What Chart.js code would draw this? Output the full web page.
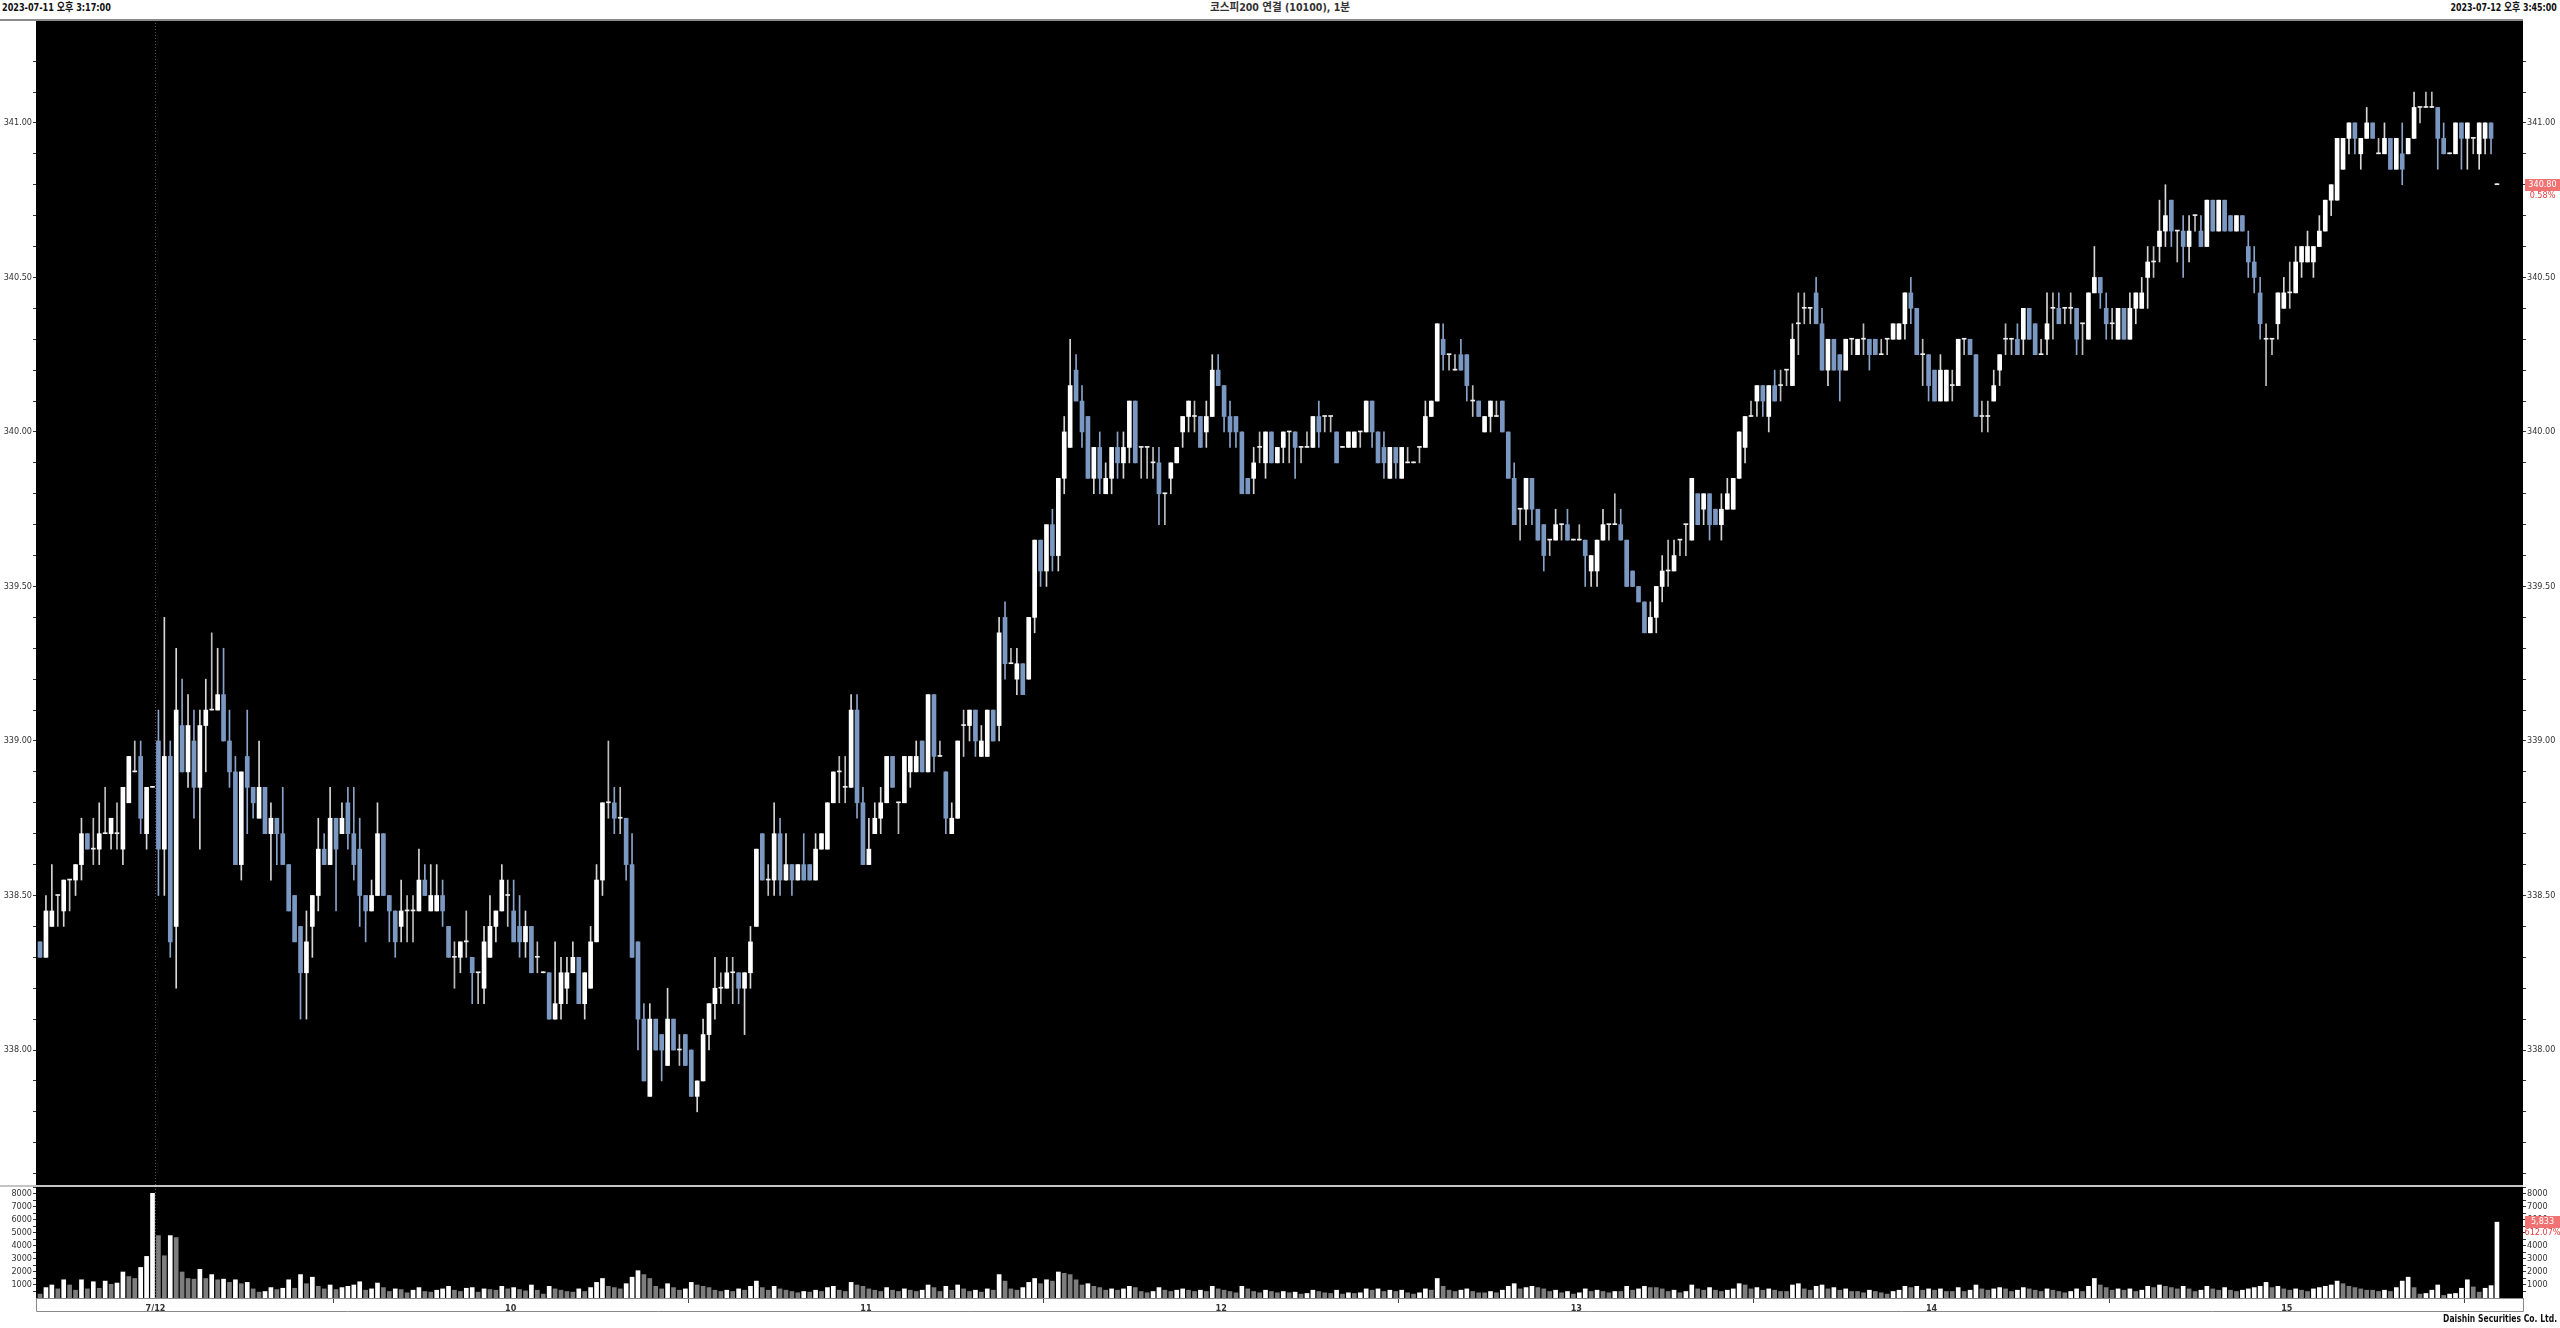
<!DOCTYPE html>
<html lang="ko">
<head>
<meta charset="utf-8">
<title>코스피200 연결 (10100), 1분</title>
<script src="https://cdn.jsdelivr.net/npm/chart.js@4.4.1/dist/chart.umd.min.js"></script>
<style>
html,body{margin:0;padding:0;background:#fff;}
body{width:2560px;height:1328px;position:relative;overflow:hidden;font-family:'Liberation Sans Narrow','DejaVu Sans Condensed','Noto Sans CJK KR',sans-serif;}
.hdr{position:absolute;top:1px;font-size:11px;font-weight:bold;line-height:14px;color:#111;white-space:nowrap;z-index:6;}
#hl{left:2px;transform:scaleX(0.82);transform-origin:left center;}
#hc{left:0;width:2560px;text-align:center;color:#333;transform:scaleX(0.96);transform-origin:1280px center;}
#hr{right:3px;transform:scaleX(0.8);transform-origin:right center;}
#topline{position:absolute;left:0;top:19px;width:2523px;height:2px;background:#8a8a8a;z-index:5;}
#sepline{position:absolute;left:0;top:1185px;width:2523px;height:2px;background:#c4c4c4;z-index:5;}
#cp{position:absolute;left:0;top:20px;}
#cv{position:absolute;left:0;top:1186px;}
#foot{position:absolute;right:3px;top:1313px;font-size:10px;line-height:12px;font-weight:bold;color:#111;z-index:6;transform:scaleX(0.85);transform-origin:right center;}
</style>
</head>
<body>
<div class="hdr" id="hl">2023-07-11 오후 3:17:00</div>
<div class="hdr" id="hc">코스피200 연결 (10100), 1분</div>
<div class="hdr" id="hr">2023-07-12 오후 3:45:00</div>
<div id="topline"></div>
<canvas id="cp" width="2560" height="1166"></canvas>
<canvas id="cv" width="2560" height="142"></canvas>
<div id="sepline"></div>
<div id="foot">Daishin Securities Co. Ltd.</div>
<script>
// ---------------- DATA (1-minute bars) ----------------
const openP = [
338.35,338.3,338.4,338.5,338.45,338.55,338.55,338.6,338.7,338.65,
338.65,338.7,338.7,338.7,338.65,338.8,338.9,338.95,338.7,338.85,
339,338.65,338.95,338.4,339.05,338.9,339,338.85,339.05,339.1,
339.1,339.15,339,338.9,338.6,338.95,338.85,338.75,338.85,338.7,
338.75,338.7,338.6,338.5,338.4,338.25,338.4,338.5,338.65,338.6,
338.75,338.7,338.8,338.7,338.65,338.5,338.45,338.5,338.7,338.5,
338.45,338.4,338.45,338.45,338.45,338.55,338.45,338.45,338.5,338.4,
338.3,338.3,338.35,338.3,338.25,338.2,338.3,338.4,338.45,338.5,
338.45,338.4,338.35,338.4,338.3,338.25,338.25,338.1,338.15,338.2,
338.25,338.3,338.15,338.2,338.35,338.55,338.8,338.8,338.75,338.75,
338.6,338.35,338.1,337.85,338.1,338.05,337.95,338.1,338,338.05,
338,337.85,337.9,338.05,338.15,338.2,338.2,338.25,338.25,338.2,
338.25,338.4,338.7,338.55,338.55,338.7,338.55,338.6,338.55,338.6,
338.6,338.55,338.65,338.65,338.8,338.9,338.85,338.85,339.1,338.8,
338.6,338.7,338.75,338.8,338.95,338.8,338.8,338.9,338.9,339,
338.9,339.15,338.95,338.9,338.7,338.75,339.05,339.05,339.1,338.95,
338.95,339.1,339.05,339.4,339.25,339.2,339.25,339.2,339.4,339.65,
339.55,339.7,339.6,339.85,339.95,340.2,340.1,340.05,339.85,339.95,
339.8,339.85,339.95,339.9,339.95,340.1,339.95,339.95,339.9,339.9,
339.8,339.85,339.9,340,340.05,340.05,340.05,340,340.05,340.2,
340.15,340.05,340.05,340,339.85,339.85,339.95,339.9,340,339.9,
339.95,340,340,339.95,339.95,339.95,340.05,340.05,340.05,340,
339.95,339.95,339.95,340,340,340.1,340,339.95,339.85,339.95,
339.85,339.9,339.9,339.95,339.95,340.05,340.1,340.3,340.25,340.2,
340.25,340.25,340.1,340.1,340,340.05,340.05,340.1,340,339.85,
339.75,339.75,339.85,339.75,339.7,339.65,339.65,339.7,339.7,339.65,
339.65,339.65,339.55,339.55,339.65,339.7,339.7,339.7,339.65,339.55,
339.5,339.45,339.35,339.4,339.5,339.55,339.55,339.65,339.7,339.65,
339.8,339.75,339.8,339.75,339.7,339.75,339.75,339.85,339.95,340.05,
340.1,340.15,340.05,340.15,340.15,340.2,340.15,340.35,340.4,340.4,
340.45,340.35,340.2,340.3,340.25,340.2,340.3,340.25,340.3,340.3,
340.3,340.25,340.3,340.3,340.3,340.35,340.45,340.4,340.25,340.25,
340.2,340.1,340.1,340.15,340.15,340.3,340.3,340.25,340.05,340.05,
340.1,340.2,340.3,340.3,340.3,340.3,340.4,340.35,340.25,340.3,
340.4,340.4,340.4,340.4,340.4,340.35,340.3,340.45,340.5,340.4,
340.35,340.3,340.4,340.3,340.4,340.4,340.5,340.55,340.6,340.65,
340.75,340.65,340.65,340.6,340.7,340.65,340.6,340.75,340.65,340.75,
340.7,340.65,340.7,340.6,340.55,340.45,340.3,340.3,340.35,340.4,
340.45,340.45,340.55,340.55,340.55,340.6,340.65,340.75,340.75,340.85,
340.95,341,340.9,340.95,341,340.9,340.9,340.95,340.85,340.9,
340.9,340.95,341.05,341.05,341.05,341.05,340.95,340.9,340.9,341,
340.95,340.95,340.9,340.95,341,340.8
];
const highP = [
338.35,338.5,338.6,338.5,338.55,338.55,338.6,338.75,338.7,338.75,
338.8,338.85,338.75,338.8,338.85,338.95,339,339,338.85,338.85,
339.1,339.4,339,339.3,339.2,339.15,339.1,339.1,339.2,339.35,
339.3,339.3,339.1,338.95,338.9,339.1,338.85,339,338.85,338.8,
338.75,338.85,338.6,338.5,338.4,338.45,338.5,338.75,338.7,338.85,
338.75,338.8,338.85,338.85,338.75,338.5,338.55,338.8,338.7,338.5,
338.45,338.55,338.5,338.5,338.65,338.6,338.6,338.6,338.55,338.4,
338.35,338.35,338.45,338.3,338.25,338.4,338.5,338.45,338.6,338.55,
338.55,338.5,338.45,338.4,338.35,338.25,338.25,338.35,338.3,338.3,
338.35,338.3,338.25,338.4,338.6,338.8,339,338.85,338.85,338.75,
338.7,338.35,338.15,338.15,338.1,338.05,338.2,338.1,338.05,338.05,
338,337.9,338.1,338.15,338.3,338.25,338.3,338.3,338.25,338.25,
338.4,338.65,338.7,338.6,338.8,338.75,338.7,338.6,338.6,338.7,
338.6,338.7,338.7,338.8,338.9,338.95,338.95,339.15,339.15,338.85,
338.75,338.8,338.85,338.95,338.95,338.8,338.95,338.95,339,339,
339.15,339.15,339,338.9,338.8,339,339.1,339.1,339.1,339.05,
339.1,339.1,339.4,339.45,339.3,339.3,339.25,339.4,339.65,339.65,
339.7,339.75,339.85,340.05,340.3,340.25,340.15,340.05,339.95,340,
339.9,339.95,340,340,340.1,340.1,339.95,339.95,339.95,339.95,
339.8,339.9,339.95,340.05,340.1,340.1,340.05,340.1,340.25,340.25,
340.15,340.1,340.05,340,339.85,339.95,340,340,340,339.95,
340,340,340,339.95,340,340.05,340.1,340.05,340.05,340,
339.95,340,340,340,340.1,340.1,340,340,339.95,339.95,
339.95,339.95,339.9,339.95,340.1,340.1,340.35,340.35,340.25,340.25,
340.3,340.25,340.15,340.1,340.05,340.1,340.1,340.1,340,339.9,
339.75,339.85,339.85,339.75,339.7,339.65,339.75,339.7,339.75,339.65,
339.7,339.65,339.6,339.65,339.75,339.7,339.8,339.75,339.65,339.55,
339.5,339.45,339.45,339.5,339.6,339.65,339.65,339.65,339.7,339.85,
339.8,339.8,339.8,339.75,339.8,339.85,339.85,340,340.05,340.1,
340.15,340.15,340.15,340.2,340.2,340.2,340.35,340.45,340.45,340.4,
340.5,340.4,340.3,340.3,340.25,340.3,340.3,340.3,340.35,340.3,
340.3,340.3,340.3,340.35,340.35,340.45,340.5,340.4,340.3,340.25,
340.2,340.25,340.2,340.2,340.3,340.3,340.3,340.25,340.1,340.1,
340.2,340.25,340.35,340.3,340.35,340.4,340.4,340.35,340.3,340.45,
340.45,340.45,340.4,340.45,340.4,340.35,340.45,340.6,340.5,340.45,
340.4,340.4,340.4,340.45,340.45,340.5,340.6,340.6,340.75,340.8,
340.75,340.65,340.7,340.7,340.7,340.7,340.75,340.75,340.75,340.75,
340.7,340.7,340.7,340.65,340.6,340.5,340.35,340.3,340.45,340.5,
340.55,340.6,340.6,340.65,340.6,340.7,340.75,340.8,340.95,340.95,
341,341,340.95,341.05,341,340.95,341,340.95,340.95,341,
340.95,341.1,341.05,341.1,341.1,341.05,341,340.9,341,341,
341,340.95,341,341,341,340.8
];
const lowP = [
338.3,338.3,338.4,338.4,338.4,338.45,338.5,338.55,338.65,338.6,
338.6,338.7,338.65,338.65,338.6,338.8,338.9,338.7,338.65,338.85,
338.5,338.5,338.3,338.2,338.9,338.85,338.75,338.65,338.9,339.1,
339.1,339,338.85,338.6,338.55,338.7,338.75,338.75,338.7,338.55,
338.6,338.6,338.45,338.35,338.1,338.1,338.3,338.45,338.6,338.6,
338.45,338.7,338.65,338.55,338.4,338.35,338.45,338.5,338.5,338.35,
338.3,338.35,338.35,338.35,338.45,338.5,338.45,338.45,338.4,338.3,
338.2,338.25,338.3,338.15,338.15,338.15,338.3,338.35,338.45,338.4,
338.35,338.3,338.3,338.25,338.25,338.25,338.1,338.1,338.1,338.15,
338.25,338.15,338.1,338.2,338.35,338.5,338.75,338.7,338.7,338.55,
338.3,338,337.9,337.85,338,337.9,337.95,338,337.95,337.95,
337.85,337.8,337.9,338,338.1,338.15,338.2,338.15,338.15,338.05,
338.2,338.4,338.55,338.5,338.5,338.5,338.55,338.5,338.55,338.55,
338.55,338.55,338.65,338.65,338.8,338.8,338.8,338.85,338.75,338.6,
338.6,338.7,338.7,338.8,338.85,338.7,338.8,338.85,338.9,338.9,
338.9,338.9,338.95,338.7,338.7,338.75,338.95,339,338.95,338.95,
338.95,339,339,339.2,339.25,339.15,339.15,339.2,339.35,339.5,
339.5,339.55,339.55,339.8,339.95,340.1,339.95,339.85,339.8,339.8,
339.8,339.8,339.85,339.85,339.9,339.9,339.85,339.85,339.85,339.7,
339.7,339.8,339.9,339.95,340,340,339.95,339.95,340.05,340.15,
340,339.95,339.95,339.8,339.8,339.8,339.9,339.85,339.9,339.9,
339.9,339.9,339.85,339.9,339.95,339.95,339.95,340,340,339.9,
339.95,339.95,339.95,339.95,340,339.95,339.9,339.85,339.85,339.85,
339.85,339.9,339.9,339.9,339.95,340.05,340.1,340.2,340.2,340.2,
340.2,340.1,340.05,340.05,340,340,340.05,340,339.85,339.7,
339.65,339.7,339.7,339.65,339.55,339.6,339.65,339.65,339.65,339.65,
339.65,339.5,339.5,339.5,339.65,339.65,339.7,339.65,339.5,339.5,
339.45,339.35,339.35,339.35,339.45,339.5,339.55,339.6,339.6,339.65,
339.7,339.7,339.65,339.7,339.65,339.75,339.75,339.85,339.9,340.05,
340.05,340.05,340,340.1,340.1,340.15,340.15,340.25,340.35,340.35,
340.35,340.2,340.15,340.2,340.1,340.2,340.25,340.25,340.25,340.2,
340.25,340.25,340.25,340.3,340.3,340.3,340.35,340.25,340.15,340.1,
340.1,340.1,340.1,340.1,340.15,340.25,340.25,340.05,340,340,
340.1,340.15,340.25,340.25,340.25,340.25,340.3,340.25,340.25,340.25,
340.3,340.35,340.35,340.35,340.25,340.25,340.3,340.45,340.4,340.3,
340.3,340.3,340.3,340.3,340.35,340.4,340.4,340.5,340.55,340.6,
340.6,340.55,340.5,340.55,340.65,340.6,340.6,340.65,340.65,340.65,
340.65,340.65,340.65,340.5,340.45,340.3,340.15,340.25,340.3,340.4,
340.4,340.45,340.5,340.55,340.5,340.6,340.65,340.7,340.75,340.85,
340.9,340.9,340.85,340.95,340.95,340.9,340.9,340.85,340.85,340.8,
340.9,340.95,341,341.05,341.05,340.85,340.9,340.9,340.9,340.85,
340.85,340.9,340.85,340.9,340.9,340.8
];
const closeP = [
338.3,338.45,338.45,338.5,338.55,338.55,338.6,338.7,338.65,338.65,
338.7,338.7,338.75,338.7,338.85,338.95,338.9,338.75,338.85,338.85,
338.65,338.95,338.35,339.1,338.9,339.05,338.85,339.05,339.1,339.1,
339.15,339,338.9,338.6,338.9,338.85,338.8,338.85,338.7,338.75,
338.7,338.6,338.45,338.35,338.25,338.35,338.5,338.65,338.6,338.75,
338.65,338.75,338.7,338.6,338.5,338.45,338.5,338.7,338.5,338.45,
338.35,338.45,338.45,338.45,338.55,338.5,338.5,338.5,338.45,338.3,
338.3,338.35,338.35,338.25,338.25,338.35,338.4,338.45,338.55,338.5,
338.35,338.35,338.4,338.25,338.3,338.25,338.1,338.15,338.25,338.25,
338.3,338.15,338.25,338.35,338.55,338.8,338.8,338.75,338.75,338.6,
338.3,338.1,337.9,338.1,338,338,338.1,338,338,337.95,
337.85,337.9,338.05,338.15,338.2,338.2,338.25,338.25,338.2,338.25,
338.35,338.65,338.55,338.55,338.7,338.55,338.6,338.55,338.6,338.55,
338.55,338.65,338.7,338.8,338.9,338.9,338.85,339.1,338.8,338.6,
338.65,338.75,338.8,338.95,338.85,338.8,338.95,338.95,338.95,338.9,
339.15,338.95,338.95,338.75,338.75,339,339.05,339.1,339,339,
339.1,339,339.35,339.25,339.25,339.25,339.15,339.4,339.65,339.55,
339.7,339.6,339.85,340,340.15,340.1,340,339.85,339.95,339.85,
339.85,339.95,339.9,339.95,340.1,339.9,339.95,339.95,339.9,339.8,
339.8,339.9,339.95,340.05,340.1,340.05,339.95,340.05,340.2,340.15,
340.05,340,340,339.8,339.8,339.9,339.95,340,339.9,339.95,
340,340,339.95,339.95,339.95,340.05,340,340.05,340.05,339.9,
339.95,340,340,340,340.1,340,339.9,339.9,339.95,339.9,
339.95,339.9,339.9,339.95,340.05,340.1,340.35,340.25,340.25,340.2,
340.2,340.15,340.1,340.05,340.05,340.1,340.05,340,339.85,339.7,
339.75,339.85,339.75,339.65,339.6,339.65,339.7,339.7,339.65,339.65,
339.65,339.6,339.6,339.65,339.7,339.7,339.7,339.65,339.5,339.5,
339.45,339.35,339.4,339.5,339.55,339.55,339.6,339.65,339.7,339.85,
339.7,339.8,339.7,339.7,339.75,339.8,339.85,340,340.05,340.05,
340.15,340.1,340.15,340.1,340.15,340.2,340.3,340.35,340.4,340.4,
340.35,340.2,340.3,340.2,340.2,340.3,340.3,340.3,340.3,340.25,
340.25,340.25,340.3,340.35,340.35,340.45,340.4,340.25,340.25,340.15,
340.1,340.2,340.2,340.15,340.3,340.3,340.25,340.05,340.05,340.05,
340.15,340.25,340.3,340.3,340.25,340.4,340.3,340.25,340.25,340.35,
340.4,340.35,340.4,340.4,340.3,340.35,340.45,340.5,340.45,340.35,
340.35,340.4,340.3,340.4,340.45,340.45,340.55,340.55,340.65,340.7,
340.65,340.65,340.6,340.65,340.7,340.6,340.75,340.65,340.75,340.65,
340.65,340.7,340.65,340.55,340.5,340.35,340.3,340.3,340.45,340.45,
340.45,340.55,340.6,340.6,340.6,340.65,340.75,340.8,340.95,340.95,
341,340.95,340.95,341,340.95,340.9,340.95,340.85,340.95,340.85,
340.95,341.05,341.05,341.05,341.05,340.95,340.9,340.9,341,340.95,
341,340.95,341,341,340.95,340.8
];
const volume = [
300,800,1000,700,1400,1000,600,1400,700,1250,
750,1300,1050,1150,2000,1650,1500,2350,3200,8050,
4800,3250,4800,4650,2000,1500,1450,2200,1500,1800,
1400,1450,1200,1400,1100,1200,700,450,500,800,
650,750,1400,750,1800,
1100,1600,900,700,1000,650,800,900,1000,1250,600,700,1150,800,500,700,650,400,600,800,
500,450,600,700,900,600,500,750,800,450,700,650,600,900,700,800,650,550,1000,600,
300,900,700,600,500,450,700,500,800,1200,1500,900,800,700,1100,1600,2100,1800,1500,900,
700,1100,800,600,700,1200,1000,900,800,600,500,600,500,700,600,900,1300,800,600,900,
700,600,500,400,500,450,600,500,800,900,600,500,1200,1000,900,700,600,500,800,600,
500,700,600,500,600,1000,800,500,900,600,1000,700,500,600,450,700,600,1800,1300,700,
600,800,1200,1500,1100,1400,1300,2000,1900,1800,1400,1000,1100,900,800,600,700,600,700,900,
800,500,400,500,800,600,500,600,700,600,500,600,500,900,700,600,500,400,900,700,
500,400,600,500,400,500,400,450,300,350,600,500,400,350,600,300,400,350,400,700,
600,700,500,600,500,600,400,300,400,700,600,1500,900,600,500,600,700,500,400,400,
500,400,600,900,1100,700,800,900,800,700,500,600,400,500,300,400,700,500,600,500,
400,500,500,900,600,700,900,800,800,700,500,600,400,500,1000,700,600,800,600,500,
600,700,1100,1000,700,800,600,700,600,500,500,1000,1100,700,600,900,1000,700,800,600,
700,500,500,400,600,500,400,300,500,600,900,800,900,600,700,600,700,500,500,800,
500,600,1000,700,600,700,800,700,500,600,800,700,600,500,700,600,500,400,500,700,
500,900,1500,1000,800,600,700,600,700,500,600,900,800,1000,900,800,700,900,700,500,
600,900,700,600,800,600,500,600,700,800,900,1200,800,900,700,600,700,600,500,700,
800,900,1000,1300,1100,900,800,700,600,600,
500,600,500,800,1300,1600,800,300,350,600,1000,200,300,350,750,1400,850,450,750,950,5833
];
const hourTicks  = [19.5, 79.5, 139.5, 199.5, 259.5, 319.5, 379.5];
const hourLabels = ['7/12', '10', '11', '12', '13', '14', '15'];
const volTickValues = [500,1000,1500,2000,2500,3000,3500,4000,4500,5000,5500,6000,6500,7000,7500,8000,8500];
const dayBreak = 19.5;
const lastPriceText = '340.80', lastPriceChange = '0.58%';
const lastVolText = '5,833', lastVolChange = '612.07%';

// ---------------- SETTINGS ----------------
const X_MIN = -0.68, X_MAX = 419.4;
const PRICE_MIN = 337.56, PRICE_MAX = 341.333;
const VOL_MIN = 0, VOL_MAX = 8615;
const UP = '#ffffff', DOWN = '#7b98c2';
const FONT = "'Liberation Sans Narrow','DejaVu Sans Condensed',sans-serif";

const N = Math.min(openP.length, highP.length, lowP.length, closeP.length, volume.length);
const idx = Array.from({length: N}, (_, i) => i);
const bodyData = idx.map(i => ({x: i, y: [openP[i], closeP[i]]}));
const wickData = idx.map(i => ({x: i, y: [lowP[i], highP[i]]}));
const volData = idx.map(i => ({x: i, y: volume[i]}));
const bodyColors = idx.map(i => closeP[i] > openP[i] ? UP : (closeP[i] < openP[i] ? DOWN : '#f0f0f0'));
const wickColors = idx.map(i => closeP[i] > openP[i] ? '#d6d6d6' : (closeP[i] < openP[i] ? '#8aa3c8' : '#bdbdbd'));
const volColors = idx.map(i => (i > 0 && volume[i] > volume[i - 1]) ? '#ffffff' : '#7d7d7d');

function isStep(v, step) { const r = v / step; return Math.abs(r - Math.round(r)) < 1e-6; }

Chart.defaults.font.family = FONT;

const bgPlugin = {
  id: 'bg',
  beforeDraw(chart) {
    const {ctx, chartArea: a} = chart;
    ctx.save(); ctx.fillStyle = '#000';
    ctx.fillRect(a.left, a.top, a.right - a.left, a.bottom - a.top);
    ctx.restore();
  }
};
const dayLinePlugin = {
  id: 'dayLine',
  beforeDatasetsDraw(chart) {
    const {ctx, chartArea: a, scales} = chart;
    const x = Math.round(scales.x.getPixelForValue(dayBreak)) + 0.5;
    ctx.save(); ctx.strokeStyle = '#5a5a5a'; ctx.lineWidth = 1; ctx.setLineDash([1, 2]);
    ctx.beginPath(); ctx.moveTo(x, a.top); ctx.lineTo(x, a.bottom); ctx.stroke();
    ctx.restore();
  }
};
function lastLabelPlugin(axisId, value, text, sub) {
  return {
    id: 'lastLabel_' + axisId,
    afterDraw(chart) {
      const s = chart.scales[axisId];
      const y = Math.round(s.getPixelForValue(value));
      const ctx = chart.ctx;
      const x0 = chart.chartArea.right + 2, w = chart.width - x0;
      ctx.save();
      ctx.fillStyle = '#fff'; ctx.fillRect(x0, y - 6, w, 23);
      ctx.fillStyle = '#f07272'; ctx.fillRect(x0, y - 6, w, 12);
      ctx.font = '9px ' + FONT; ctx.textAlign = 'center'; ctx.textBaseline = 'middle';
      ctx.fillStyle = '#ffffff'; ctx.fillText(text, x0 + w / 2, y);
      ctx.fillStyle = '#e23c3c'; ctx.fillText(sub, x0 + w / 2, y + 11);
      ctx.restore();
    }
  };
}
const bandPlugin = {
  id: 'band',
  afterDraw(chart) {
    const {ctx, chartArea: a} = chart;
    ctx.save(); ctx.strokeStyle = '#8a8a8a'; ctx.lineWidth = 1;
    ctx.beginPath();
    ctx.moveTo(a.left + 0.5, a.bottom); ctx.lineTo(a.left + 0.5, a.bottom + 13.5);
    ctx.lineTo(a.right + 0.5, a.bottom + 13.5); ctx.lineTo(a.right + 0.5, a.bottom);
    ctx.stroke(); ctx.restore();
  }
};

function yAxis(pos, w, min, max, step, labelStep, fmt, minorStep, tickList) {
  const ax = {
    type: 'linear', position: pos, min: min, max: max,
    grid: { display: true, drawOnChartArea: false, drawTicks: true, tickLength: 3,
            tickColor: c => (c.tick && isStep(c.tick.value, minorStep)) ? '#333' : 'rgba(0,0,0,0)' },
    border: { display: false },
    ticks: { stepSize: step, autoSkip: false, padding: 1, color: '#333', font: {size: 9, family: FONT},
             callback: v => (isStep(v, labelStep) && v > 0) ? fmt(v) : '' },
    afterFit(s) { s.width = w; s.paddingTop = 0; s.paddingBottom = 0; }
  };
  if (tickList) ax.afterBuildTicks = s => { s.ticks = tickList.map(v => ({value: v})); };
  return ax;
}

new Chart(document.getElementById('cp'), {
  type: 'bar',
  data: {
    datasets: [
      { data: bodyData, backgroundColor: bodyColors, barThickness: 4, minBarLength: 1, grouped: false, borderWidth: 0, yAxisID: 'y' },
      { data: wickData, backgroundColor: wickColors, barThickness: 1, minBarLength: 1, grouped: false, borderWidth: 0, yAxisID: 'y' }
    ]
  },
  options: {
    responsive: false, devicePixelRatio: 1, animation: false,
    layout: { padding: 0 },
    plugins: { legend: {display: false}, tooltip: {enabled: false} },
    scales: {
      x: { type: 'linear', min: X_MIN, max: X_MAX, offset: false, display: false },
      y: yAxis('left', 36, PRICE_MIN, PRICE_MAX, 0.1, 0.5, v => v.toFixed(2), 0.1),
      y2: yAxis('right', 37, PRICE_MIN, PRICE_MAX, 0.1, 0.5, v => v.toFixed(2), 0.1)
    }
  },
  plugins: [bgPlugin, dayLinePlugin, lastLabelPlugin('y2', closeP[N - 1], lastPriceText, lastPriceChange)]
});

new Chart(document.getElementById('cv'), {
  type: 'bar',
  data: {
    datasets: [
      { data: volData, backgroundColor: volColors, barThickness: 4, grouped: false, borderWidth: 0, yAxisID: 'y' }
    ]
  },
  options: {
    responsive: false, devicePixelRatio: 1, animation: false,
    layout: { padding: 0 },
    plugins: { legend: {display: false}, tooltip: {enabled: false} },
    scales: {
      x: { type: 'linear', min: X_MIN, max: X_MAX, offset: false,
           afterBuildTicks(s) { s.ticks = hourTicks.map(v => ({value: v})); },
           grid: { display: true, drawOnChartArea: false, tickLength: 5, tickColor: '#444' },
           border: { display: true, color: '#8a8a8a' },
           ticks: { autoSkip: false, maxRotation: 0, padding: 0, color: '#333',
                    font: {size: 9, weight: 'bold', family: FONT},
                    callback: v => { const k = hourTicks.indexOf(v); return k >= 0 ? hourLabels[k] : ''; } },
           afterFit(s) { s.height = 30; s.paddingLeft = 0; s.paddingRight = 0; } },
      y: yAxis('left', 36, VOL_MIN, VOL_MAX, 500, 1000, v => String(v), 500, volTickValues),
      y2: yAxis('right', 37, VOL_MIN, VOL_MAX, 500, 1000, v => String(v), 500, volTickValues)
    }
  },
  plugins: [bgPlugin, dayLinePlugin, bandPlugin, lastLabelPlugin('y2', volume[N - 1], lastVolText, lastVolChange)]
});
</script>
</body>
</html>
